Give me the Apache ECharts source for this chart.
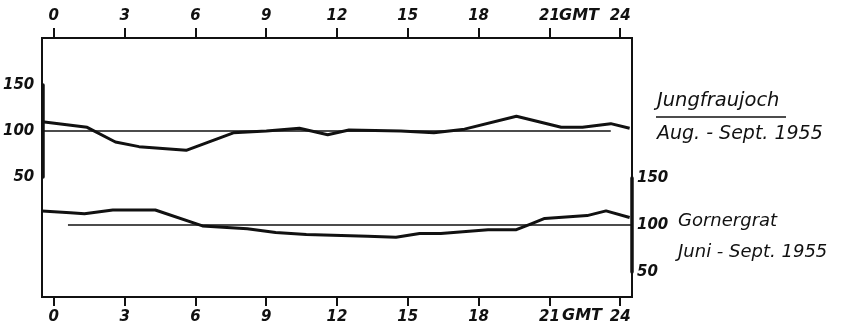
<!DOCTYPE html>
<html>
<head>
<meta charset="utf-8">
<script src="https://cdn.jsdelivr.net/npm/echarts@6/dist/echarts.min.js"></script>
<style>
  html, body { margin: 0; padding: 0; background: #fff; }
  #chart { width: 841px; height: 335px; }
</style>
</head>
<body>
<div id="chart"></div>
<script>
// Hour-of-day tick labels (GMT)
const hourTicks = [0, 3, 6, 9, 12, 15, 18, 21, 24];
const levelTicks = [50, 100, 150];

// Jungfraujoch, Aug. - Sept. 1955 (relative values, mean = 100)
const jungHours  = [-0.5, 1.4, 2.6, 3.6, 5.6, 7.6, 9.0, 10.4, 11.6, 12.5, 14.7, 15.5, 16.1, 17.4, 19.6, 21.5, 22.4, 23.6, 24.4];
const jungValues = [110, 104, 88, 83, 79, 98, 100, 103, 96, 101, 100, 99, 98, 102, 116, 104, 104, 108, 103];
const jungBaseHours = [-0.5, 23.6];

// Gornergrat, Juni - Sept. 1955
const gornHours  = [-0.5, 0.7, 1.3, 2.5, 4.3, 6.3, 8.2, 9.4, 10.7, 13.3, 14.5, 15.5, 16.4, 18.4, 19.6, 20.2, 20.8, 22.6, 23.4, 24.4];
const gornValues = [115, 113, 112, 116, 116, 99, 96, 92, 90, 88, 87, 91, 91, 95, 95, 101, 107, 110, 115, 108];
const gornBaseHours = [0.6, 24.5];

const meanLevel = 100;

const INK = '#111';
const FONT = 'DejaVu Sans';

const pairs = (xs, ys) => xs.map((x, i) => [x, ys[i]]);
const flat = (xs) => xs.map(x => [x, meanLevel]);

const chart = echarts.init(document.getElementById('chart'), null, { renderer: 'canvas' });

const tickLabelStyle = {
  color: INK, fontFamily: FONT, fontStyle: 'italic', fontWeight: 'bold', fontSize: 15
};

const hiddenX = (grid) => ({
  type: 'value', gridIndex: grid, min: -0.5, max: 24.5, show: false
});

chart.setOption({
  animation: false,
  backgroundColor: '#fff',
  grid: [
    { left: 42, right: 209, top: 38, bottom: 38, show: true, borderColor: INK, borderWidth: 2, backgroundColor: 'transparent' },
    { left: 42, right: 209, top: 85, height: 92 },
    { left: 42, right: 209, top: 178, height: 94 }
  ],
  xAxis: [
    {
      type: 'value', gridIndex: 0, position: 'top', min: -0.5, max: 24.5,
      axisLine: { show: true, onZero: false, lineStyle: { color: INK, width: 2 } },
      axisTick: { show: true, inside: false, length: 10, customValues: hourTicks, lineStyle: { color: INK, width: 2 } },
      axisLabel: Object.assign({ customValues: hourTicks, margin: 14 }, tickLabelStyle),
      splitLine: { show: false }
    },
    {
      type: 'value', gridIndex: 0, position: 'bottom', min: -0.5, max: 24.5,
      axisLine: { show: true, onZero: false, lineStyle: { color: INK, width: 2 } },
      axisTick: { show: true, inside: false, length: 9, customValues: hourTicks, lineStyle: { color: INK, width: 2 } },
      axisLabel: Object.assign({ customValues: hourTicks, margin: 13 }, tickLabelStyle),
      splitLine: { show: false }
    },
    hiddenX(1),
    hiddenX(2)
  ],
  yAxis: [
    { type: 'value', gridIndex: 0, show: false, min: 0, max: 1 },
    {
      type: 'value', gridIndex: 1, position: 'left', min: 50, max: 150,
      axisLine: { show: true, onZero: false, lineStyle: { color: INK, width: 3.5 } },
      axisTick: { show: false },
      axisLabel: Object.assign({ customValues: levelTicks, margin: 8 }, tickLabelStyle),
      splitLine: { show: false }
    },
    {
      type: 'value', gridIndex: 2, position: 'right', min: 50, max: 150,
      axisLine: { show: true, onZero: false, lineStyle: { color: INK, width: 3.5 } },
      axisTick: { show: false },
      axisLabel: Object.assign({ customValues: levelTicks, margin: 5 }, tickLabelStyle),
      splitLine: { show: false }
    }
  ],
  series: [
    {
      name: 'Jungfraujoch mean', type: 'line', xAxisIndex: 2, yAxisIndex: 1,
      data: flat(jungBaseHours), symbol: 'none', silent: true,
      lineStyle: { color: INK, width: 1.6 }
    },
    {
      name: 'Jungfraujoch', type: 'line', xAxisIndex: 2, yAxisIndex: 1,
      data: pairs(jungHours, jungValues), symbol: 'none', silent: true,
      lineStyle: { color: INK, width: 3 }
    },
    {
      name: 'Gornergrat mean', type: 'line', xAxisIndex: 3, yAxisIndex: 2,
      data: flat(gornBaseHours), symbol: 'none', silent: true,
      lineStyle: { color: INK, width: 1.6 }
    },
    {
      name: 'Gornergrat', type: 'line', xAxisIndex: 3, yAxisIndex: 2,
      data: pairs(gornHours, gornValues), symbol: 'none', silent: true,
      lineStyle: { color: INK, width: 3 }
    }
  ],
  graphic: [
    { type: 'text', left: 559, top: 8, style: { text: 'GMT', fill: INK, font: 'italic bold 16px "DejaVu Sans"' } },
    { type: 'text', left: 562, top: 308, style: { text: 'GMT', fill: INK, font: 'italic bold 16px "DejaVu Sans"' } },
    { type: 'text', left: 657, top: 91, style: { text: 'Jungfraujoch', fill: INK, font: 'italic 19.5px "DejaVu Sans"' } },
    { type: 'line', shape: { x1: 656, y1: 117, x2: 786, y2: 117 }, style: { stroke: INK, lineWidth: 1.6 } },
    { type: 'text', left: 657, top: 125, style: { text: 'Aug. - Sept. 1955', fill: INK, font: 'italic 19px "DejaVu Sans"' } },
    { type: 'text', left: 678, top: 212, style: { text: 'Gornergrat', fill: INK, font: 'italic 18px "DejaVu Sans"' } },
    { type: 'text', left: 678, top: 243, style: { text: 'Juni - Sept. 1955', fill: INK, font: 'italic 18px "DejaVu Sans"' } }
  ]
});
</script>
</body>
</html>
